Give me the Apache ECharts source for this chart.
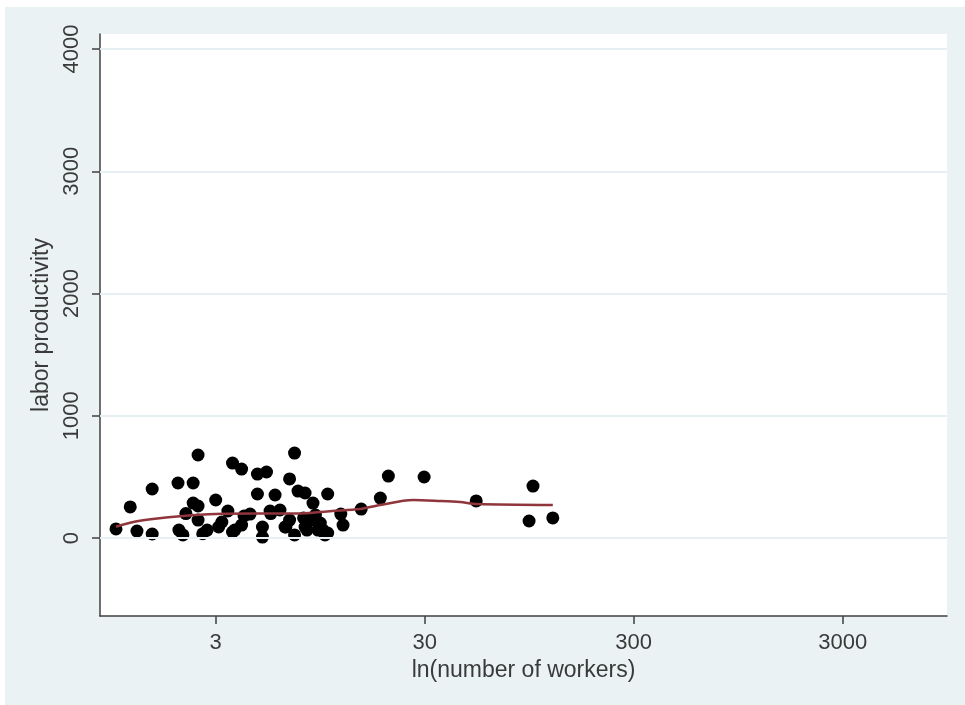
<!DOCTYPE html>
<html>
<head>
<meta charset="utf-8">
<script src="https://cdn.jsdelivr.net/npm/echarts@6/dist/echarts.min.js"></script>
<style>
html,body{margin:0;padding:0;background:#ffffff;}
#chart{width:965px;height:705px;}
</style>
</head>
<body>
<div id="chart"></div>
<script>
// number of workers (x) and labor productivity (y) for each firm
const workers = [1.0,1.17,1.26,1.49,1.49,1.98,2.34,2.47,2.0,2.09,2.34,2.47,2.16,3.0,2.47,2.73,
  3.61,3.99,4.75,5.25,7.15,6.77,4.75,5.77,7.43,8.03,10.3,8.76,3.43,4.38,5.46,6.09,9.0,
  3.21,3.61,3.99,5.02,5.02,6.44,7.15,8.03,9.26,10.0,6.77,3.1,20.1,18.4,14.9,11.9,12.2,
  8.76,9.78,10.3,8.2,29.8,52.9,98.9,94.7,123,2.6,3.7,4.1,5.5,6.5,7.9,9.5];
const productivity = [74,254,57,401,33,450,450,679,65,25,286,262,200,311,147,65,
  613,564,523,540,695,483,360,352,384,368,360,286,221,196,221,229,188,
  131,49,106,90,8,90,25,90,65,25,147,90,507,327,237,196,106,
  147,65,41,65,499,303,425,139,164,35,65,180,200,90,164,123];
// lowess fit
const fitWorkers = [1.0,1.21,1.5,2.09,3,4.62,7.19,10.8,14.7,18.3,26.4,35.5,44.3,53.4,123];
const fitValues  = [92,131,155,180,196,200,200,221,237,270,311,303,294,278,270];
// axis ticks
const xTickLabels = [3,30,300,3000];
const yTickValues = [0,1000,2000,3000,4000];

const xTicks = xTickLabels.map(v => Math.log10(v));
const scatterData = workers.map((w,i) => [Math.log10(w), productivity[i]]);
const fitData = fitWorkers.map((w,i) => [Math.log10(w), fitValues[i]]);

const FONT = 'Liberation Sans, Arial, sans-serif';
const TXT = '#3a3a3a';
const AX = '#404040';

const chart = echarts.init(document.getElementById('chart'), null, {renderer:'canvas'});
chart.setOption({
  animation:false,
  backgroundColor:'#ffffff',
  graphic:[{type:'rect', z:-10, silent:true, shape:{x:5,y:7,width:960,height:698}, style:{fill:'#eaf2f3'}}],
  grid:{left:100, right:18, top:34, bottom:89, show:true, backgroundColor:'#ffffff', borderWidth:0},
  xAxis:{
    type:'value', min:-0.0765, max:3.976,
    name:'ln(number of workers)', nameLocation:'middle', nameGap:41,
    nameTextStyle:{fontSize:23, color:TXT, fontFamily:FONT},
    axisLine:{show:true, onZero:false, lineStyle:{color:AX, width:1.5}},
    axisTick:{show:true, length:8, customValues:xTicks, lineStyle:{color:AX, width:1.5}},
    axisLabel:{customValues:xTicks, margin:16, fontSize:22, color:TXT, fontFamily:FONT,
      formatter:v => String(Math.round(Math.pow(10, v)))},
    splitLine:{show:false}
  },
  yAxis:{
    type:'value', min:-638, max:4123,
    name:'labor productivity', nameLocation:'middle', nameGap:44, nameRotate:90,
    nameTextStyle:{fontSize:23, color:TXT, fontFamily:FONT},
    axisLine:{show:true, onZero:false, lineStyle:{color:AX, width:1.5}},
    axisTick:{show:true, length:8, customValues:yTickValues, lineStyle:{color:AX, width:1.5}},
    axisLabel:{customValues:yTickValues, rotate:90, margin:17, fontSize:22, color:TXT, fontFamily:FONT,
      formatter:v => String(Math.round(v))},
    splitLine:{show:false}
  },
  series:[
    {type:'line', name:'grid', data:[], z:1, silent:true,
     markLine:{silent:true, symbol:['none','none'], label:{show:false},
       lineStyle:{color:'#e6eff1', width:2, type:'solid'},
       data:yTickValues.map(v => ({yAxis:v}))}},
    {type:'scatter', data:scatterData, symbol:'circle', symbolSize:13, z:3,
     itemStyle:{color:'#000000', opacity:1}},
    {type:'line', data:fitData, showSymbol:false, symbol:'none', z:4, smooth:0.3,
     lineStyle:{color:'#90353b', width:2.5}}
  ]
});
</script>
</body>
</html>
